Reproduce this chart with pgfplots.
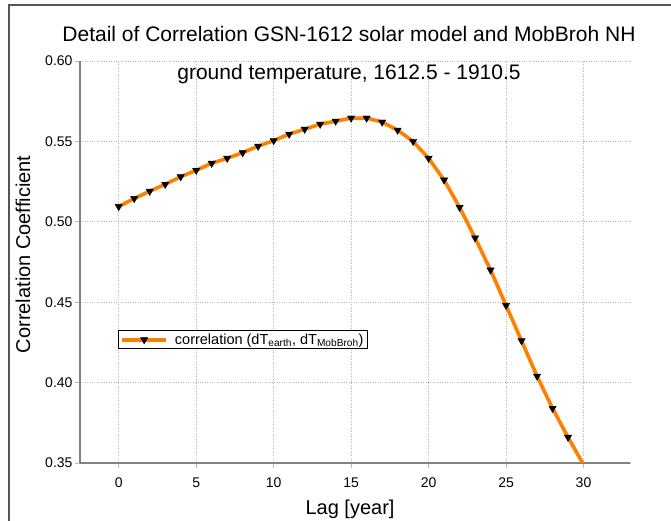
\documentclass[border=0pt]{standalone}
\usepackage{pgfplots}
\usepackage{pgfplotstable}
\pgfplotsset{compat=1.18}
\usepackage{fontspec}
\setmainfont{Liberation Sans}
\definecolor{corange}{RGB}{255,128,0}
\definecolor{gridc}{RGB}{185,185,185}
\definecolor{axc}{RGB}{130,130,130}
\definecolor{framec}{RGB}{85,85,85}

\pgfplotstableread{
lag r
0 0.5095
1 0.5145
2 0.5190
3 0.5233
4 0.5280
5 0.5320
6 0.5364
7 0.5395
8 0.5430
9 0.5470
10 0.5505
11 0.5545
12 0.5576
13 0.5607
14 0.5626
15 0.5645
16 0.5645
17 0.5620
18 0.5570
19 0.5500
20 0.5395
21 0.5260
22 0.5090
23 0.4900
24 0.4700
25 0.4480
26 0.4260
27 0.4040
28 0.3840
29 0.3660
30 0.3490
}\corr

\pgfplotstableread{
lag r
0 0.5095
1 0.5145
2 0.5190
3 0.5233
4 0.5280
5 0.5320
6 0.5364
7 0.5395
8 0.5430
9 0.5470
10 0.5505
11 0.5545
12 0.5576
13 0.5607
14 0.5626
15 0.5645
16 0.5645
17 0.5620
18 0.5570
19 0.5500
20 0.5395
21 0.5260
22 0.5090
23 0.4900
24 0.4700
25 0.4480
26 0.4260
27 0.4040
28 0.3840
29 0.3660
}\corrmarks

\begin{document}
\begin{tikzpicture}[x=1pt,y=1pt]
\useasboundingbox (0,0) rectangle (671,521);
\draw[framec,line width=2.5pt] (9,0) -- (9,516) -- (671,516);
\node[anchor=base,font=\fontsize{21}{24}\selectfont] at (349,479) {Detail of Correlation GSN-1612 solar model and MobBroh NH};
\begin{axis}[
  at={(80pt,58pt)}, anchor=south west,
  scale only axis, width=550pt, height=402pt,
  xmin=-2.5, xmax=33, ymin=0.35, ymax=0.60,
  xtick={0,5,10,15,20,25,30},
  ytick={0.35,0.40,0.45,0.50,0.55,0.60},
  axis x line*=bottom, axis y line*=left,
  axis line style={axc, line width=1.2pt},
  tick align=outside, major tick length=5pt,
  tick style={gridc, line width=0.6pt},
  grid=major, grid style={gridc, dotted, line width=0.7pt},
  /pgf/number format/assume math mode=true,
  ticklabel style={font=\fontsize{14}{16}\selectfont},
  xticklabel style={yshift=-6pt},
  yticklabel style={xshift=1pt, /pgf/number format/fixed, /pgf/number format/fixed zerofill, /pgf/number format/precision=2},
  xlabel={Lag [year]}, ylabel={Correlation Coefficient},
  label style={font=\fontsize{20}{22}\selectfont},
  xlabel style={at={(axis description cs:0.491,-0.115)}, anchor=center},
  ylabel style={at={(axis description cs:-0.1036,0.519)}, anchor=center},
  legend style={at={(axis description cs:0.069,0.33)}, anchor=north west, draw=black, line width=0.8pt, font=\fontsize{14.5}{16}\selectfont, inner xsep=2pt, inner ysep=1pt},
  legend cell align=left,
  legend image code/.code={\draw[mark repeat=2,mark phase=2,#1] plot coordinates {(0pt,0pt) (22pt,0pt) (44pt,0pt)};},
]
\addplot[corange, line width=3.6pt, line join=round, forget plot] table[x=lag,y=r] {\corr};
\addplot[only marks, mark=triangle*, mark size=4.2pt, mark options={rotate=180, fill=black, draw=black}, forget plot] table[x=lag,y=r] {\corrmarks};
\addlegendimage{corange, line width=3.6pt, mark=triangle*, mark size=4.2pt, mark options={rotate=180, fill=black, draw=black, line width=0.4pt}}
\addlegendentry{\hspace{5pt}correlation (dT\textsubscript{earth}, dT\textsubscript{MobBroh})}
\end{axis}
\node[anchor=base,font=\fontsize{21}{24}\selectfont] at (349,441) {ground temperature, 1612.5 - 1910.5};
\end{tikzpicture}
\end{document}
